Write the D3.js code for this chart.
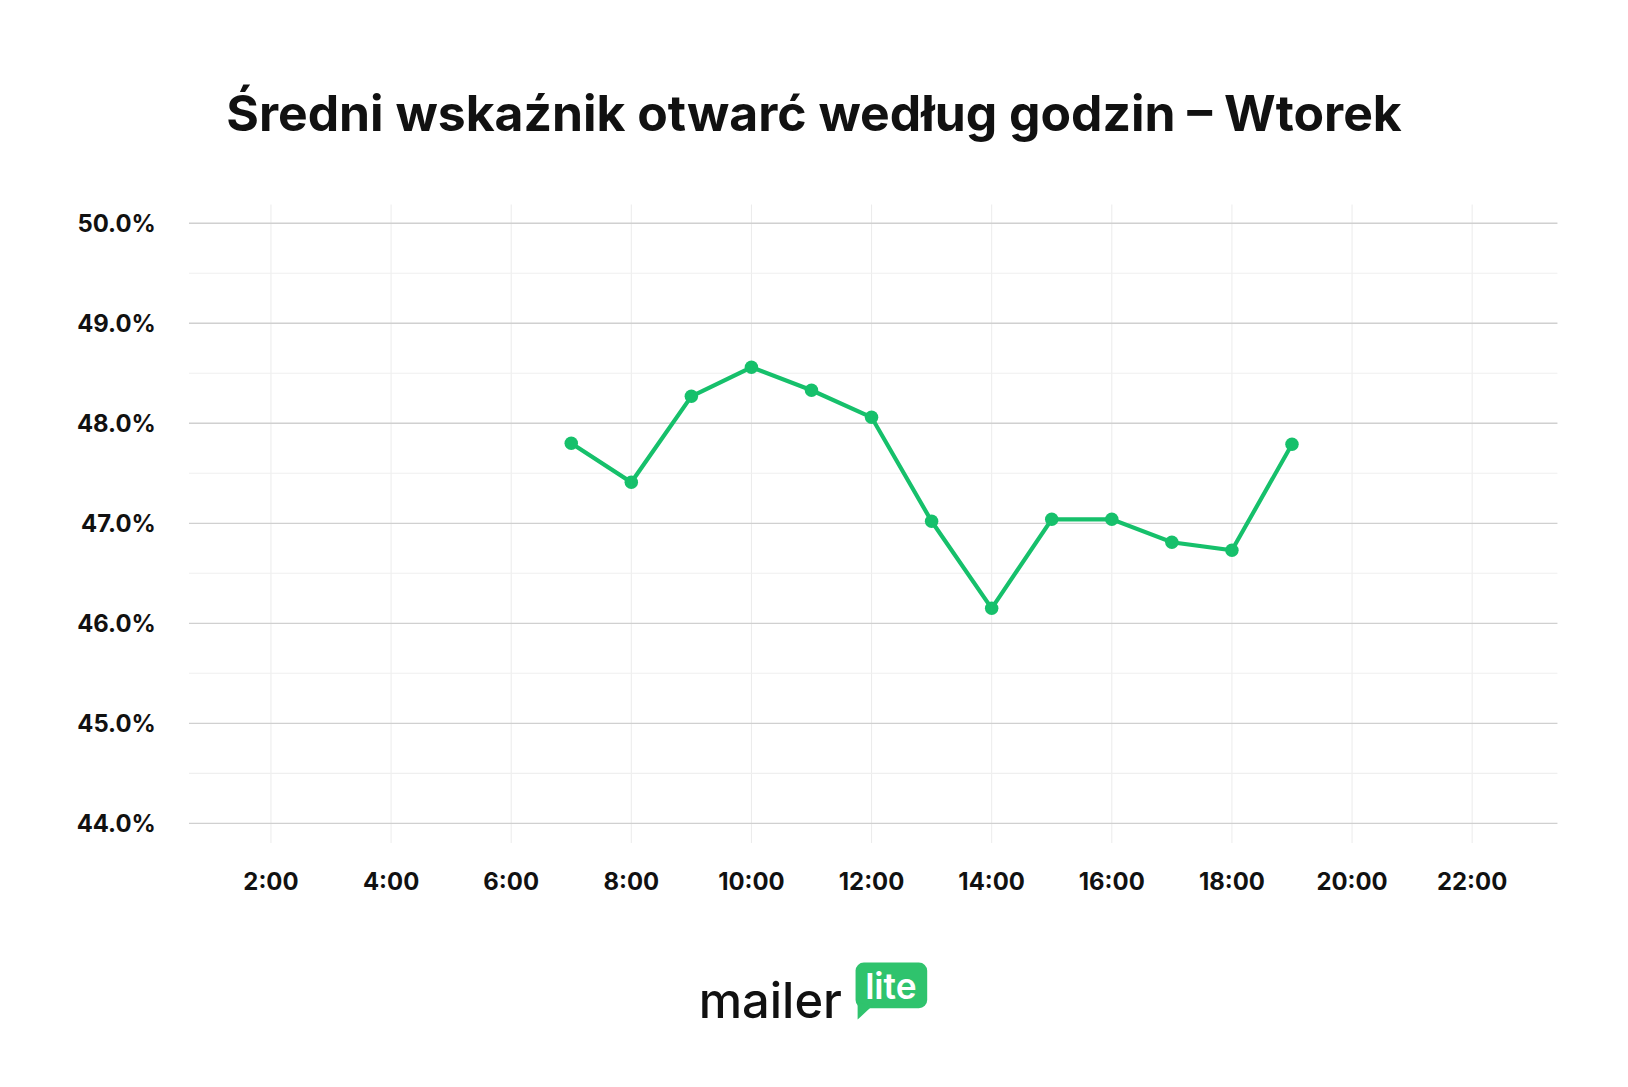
<!DOCTYPE html><html><head><meta charset="utf-8"><script src="https://cdn.jsdelivr.net/npm/d3@7"></script>
<style>body{margin:0;background:#fff}text{font-family:Inter,sans-serif}</style></head><body><svg id="c" width="1628" height="1087"></svg>
<script>
const hours=[7,8,9,10,11,12,13,14,15,16,17,18,19];
const values=[47.80,47.41,48.27,48.56,48.33,48.06,47.02,46.15,47.04,47.04,46.81,46.73,47.79];
const yTicks=[44,45,46,47,48,49,50];
const xTicks=[2,4,6,8,10,12,14,16,18,20,22];
const title="Średni wskaźnik otwarć według godzin – Wtorek";
const svg=d3.select("#c").append("g").attr("transform","scale(1.0383)");
const x=d3.scaleLinear().domain([0.635,23.42]).range([182,1500]);
const y=d3.scaleLinear().domain([44,50]).range([793,215]);
svg.append("text").attr("x",784).attr("y",126).attr("text-anchor","middle").attr("font-size",48).attr("font-weight",700).attr("fill","#111").text(title);
const g=svg.append("g");
g.selectAll(".v").data(xTicks).join("line").attr("x1",d=>x(d)).attr("x2",d=>x(d)).attr("y1",197).attr("y2",812).attr("stroke","#ececec");
g.selectAll(".m").data(d3.range(44.5,50,1)).join("line").attr("x1",182).attr("x2",1500).attr("y1",d=>y(d)).attr("y2",d=>y(d)).attr("stroke","#efefef");
g.selectAll(".h").data(yTicks).join("line").attr("x1",182).attr("x2",1500).attr("y1",d=>y(d)).attr("y2",d=>y(d)).attr("stroke","#d0d0d0").attr("stroke-width",1.3);
g.selectAll(".yl").data(yTicks).join("text").attr("x",150).attr("y",d=>y(d)+8).attr("text-anchor","end").attr("font-size",23).attr("font-weight",700).attr("fill","#111").text(d=>d.toFixed(1)+"%");
g.selectAll(".xl").data(xTicks).join("text").attr("x",d=>x(d)).attr("y",857).attr("text-anchor","middle").attr("font-size",23).attr("font-weight",700).attr("fill","#111").text(d=>d+":00");
const pts=hours.map((h,i)=>[h,values[i]]);
g.append("path").datum(pts).attr("d",d3.line().x(d=>x(d[0])).y(d=>y(d[1]))).attr("fill","none").attr("stroke","#16c06b").attr("stroke-width",4);
g.selectAll(".p").data(pts).join("circle").attr("cx",d=>x(d[0])).attr("cy",d=>y(d[1])).attr("r",6.5).attr("fill","#16c06b");
// logo
svg.append("text").attr("x",673).attr("y",980).attr("font-size",47).attr("font-weight",500).attr("fill","#111").text("mailer");
svg.append("rect").attr("x",824).attr("y",927).attr("width",69).attr("height",44).attr("rx",8).attr("fill","#2fc36d");
svg.append("path").attr("d","M826,965 L826,982 L840,969 Z").attr("fill","#2fc36d");
svg.append("text").attr("x",858).attr("y",962).attr("text-anchor","middle").attr("font-size",34).attr("font-weight",600).attr("fill","#fff").text("lite");
</script></body></html>
